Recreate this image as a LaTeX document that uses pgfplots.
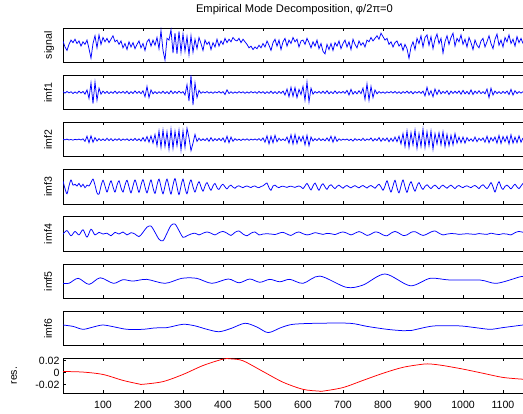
\documentclass[border=0pt]{standalone}
\usepackage{pgfplots}
\pgfplotsset{compat=1.18}
\usepackage{pgfplotstable}
\usepackage{fontspec}
\setmainfont{Liberation Sans}

\pgfplotstableread[row sep=\\]{
y\\
0.25\\ -0.10\\ -0.30\\ 0.05\\ 0.30\\ 0.15\\ 0.35\\ 0.10\\ 0.25\\ -0.05\\
0.20\\ 0.05\\ 0.30\\ -0.20\\ -0.75\\ 0.10\\ 0.55\\ -0.15\\ 0.60\\ 0.05\\
0.45\\ 0.20\\ 0.40\\ 0.15\\ 0.35\\ 0.55\\ 0.20\\ 0.30\\ 0.05\\ 0.25\\
-0.15\\ 0.10\\ -0.25\\ 0.20\\ -0.10\\ 0.15\\ -0.20\\ 0.05\\ 0.25\\ -0.15\\
0.10\\ -0.30\\ 0.20\\ 0.35\\ -0.05\\ 0.30\\ 0.00\\ 0.45\\ -0.20\\ 0.85\\
-0.30\\ -0.86\\ 0.40\\ 0.30\\ 0.90\\ -0.45\\ 0.70\\ -0.50\\ 0.80\\ -0.40\\
0.65\\ -0.35\\ 0.50\\ -0.55\\ 0.55\\ -0.40\\ 0.35\\ -0.20\\ 0.45\\ 0.10\\
-0.30\\ 0.30\\ 0.05\\ 0.20\\ -0.25\\ 0.15\\ -0.10\\ 0.35\\ -0.05\\ 0.25\\
0.05\\ 0.40\\ 0.15\\ 0.35\\ 0.20\\ 0.45\\ 0.30\\ 0.25\\ 0.40\\ 0.15\\
0.35\\ 0.20\\ 0.05\\ -0.15\\ -0.05\\ -0.25\\ -0.10\\ -0.20\\ 0.00\\ -0.15\\
0.10\\ -0.10\\ 0.25\\ 0.00\\ -0.30\\ 0.15\\ 0.35\\ -0.05\\ 0.30\\ -0.25\\
0.20\\ 0.40\\ -0.05\\ 0.30\\ 0.10\\ 0.45\\ 0.20\\ 0.35\\ -0.10\\ 0.25\\
0.30\\ 0.05\\ 0.40\\ 0.15\\ -0.15\\ 0.20\\ -0.05\\ 0.30\\ -0.20\\ 0.10\\
-0.35\\ -0.50\\ 0.05\\ -0.25\\ 0.10\\ -0.30\\ 0.15\\ -0.05\\ 0.25\\ -0.20\\
0.10\\ 0.30\\ -0.10\\ 0.20\\ -0.25\\ 0.35\\ 0.05\\ -0.15\\ 0.25\\ 0.00\\
0.15\\ -0.10\\ 0.30\\ 0.20\\ 0.45\\ 0.25\\ 0.40\\ 0.55\\ 0.35\\ 0.70\\
0.50\\ 0.30\\ 0.40\\ 0.05\\ 0.20\\ -0.10\\ 0.15\\ 0.25\\ -0.05\\ 0.10\\
-0.30\\ 0.05\\ -0.20\\ -0.76\\ -0.10\\ 0.20\\ -0.25\\ 0.40\\ 0.10\\ 0.55\\
-0.10\\ 0.45\\ 0.60\\ 0.00\\ 0.50\\ -0.20\\ 0.35\\ 0.65\\ 0.10\\ 0.40\\
-0.45\\ 0.20\\ 0.55\\ 0.05\\ 0.45\\ 0.70\\ -0.05\\ 0.40\\ 0.20\\ 0.60\\
0.05\\ 0.35\\ -0.10\\ 0.45\\ 0.15\\ -0.25\\ 0.30\\ 0.00\\ -0.15\\ 0.25\\
0.40\\ -0.10\\ 0.20\\ 0.55\\ 0.10\\ -0.20\\ 0.35\\ 0.65\\ 0.00\\ 0.30\\
-0.10\\ 0.45\\ 0.20\\ 0.60\\ 0.10\\ 0.35\\ -0.05\\ 0.50\\ 0.15\\ 0.40\\
0.10\\
}\sigtab

\pgfplotstableread[row sep=\\]{
y\\
0.05\\ -0.04\\ 0.06\\ -0.03\\ 0.04\\ -0.06\\ 0.03\\ -0.05\\ 0.07\\ -0.04\\
0.06\\ -0.10\\ 0.15\\ -0.35\\ 0.55\\ -0.65\\ 0.60\\ -0.45\\ 0.25\\ -0.10\\
0.08\\ -0.05\\ 0.06\\ -0.07\\ 0.04\\ -0.05\\ 0.08\\ -0.06\\ 0.05\\ -0.04\\
0.06\\ -0.05\\ 0.07\\ -0.08\\ 0.05\\ -0.06\\ 0.09\\ -0.05\\ 0.06\\ -0.07\\
0.10\\ -0.25\\ 0.35\\ -0.30\\ 0.15\\ -0.08\\ 0.05\\ -0.06\\ 0.04\\ -0.05\\
0.07\\ -0.06\\ 0.05\\ -0.08\\ 0.10\\ -0.07\\ 0.06\\ -0.05\\ 0.08\\ -0.04\\
0.05\\ -0.15\\ 0.45\\ -0.50\\ 1.00\\ -0.73\\ 0.55\\ -0.30\\ 0.12\\ -0.05\\
0.04\\ -0.03\\ 0.05\\ -0.04\\ 0.03\\ -0.05\\ 0.04\\ -0.03\\ 0.06\\ -0.04\\
0.05\\ -0.12\\ 0.15\\ -0.06\\ 0.04\\ -0.05\\ 0.03\\ -0.04\\ 0.05\\ -0.03\\
0.04\\ -0.05\\ 0.03\\ -0.04\\ 0.05\\ -0.03\\ 0.04\\ -0.05\\ 0.06\\ -0.04\\
0.05\\ -0.06\\ 0.04\\ -0.05\\ 0.07\\ -0.06\\ 0.05\\ -0.07\\ 0.06\\ -0.05\\
0.08\\ -0.15\\ 0.20\\ -0.25\\ 0.30\\ -0.22\\ 0.28\\ -0.30\\ 0.18\\ -0.12\\
0.35\\ -0.45\\ 0.60\\ -0.55\\ 0.25\\ -0.10\\ 0.05\\ -0.04\\ 0.06\\ -0.05\\
0.07\\ -0.06\\ 0.10\\ -0.08\\ 0.05\\ -0.07\\ 0.09\\ -0.06\\ 0.05\\ -0.04\\
0.06\\ -0.05\\ 0.12\\ -0.15\\ 0.18\\ -0.10\\ 0.06\\ -0.08\\ 0.10\\ -0.07\\
0.25\\ -0.40\\ 0.50\\ -0.45\\ 0.35\\ -0.30\\ 0.15\\ -0.08\\ 0.05\\ -0.04\\
0.03\\ -0.05\\ 0.04\\ -0.03\\ 0.05\\ -0.04\\ 0.06\\ -0.05\\ 0.04\\ -0.06\\
0.05\\ -0.04\\ 0.07\\ -0.05\\ 0.06\\ -0.08\\ 0.05\\ -0.04\\ 0.06\\ -0.05\\
0.08\\ -0.20\\ 0.30\\ -0.15\\ 0.10\\ -0.25\\ 0.20\\ -0.12\\ 0.15\\ -0.08\\
0.06\\ -0.05\\ 0.10\\ -0.12\\ 0.08\\ -0.06\\ 0.07\\ -0.05\\ 0.09\\ -0.10\\
0.12\\ -0.08\\ 0.06\\ -0.10\\ 0.15\\ -0.12\\ 0.08\\ -0.06\\ 0.10\\ -0.07\\
0.05\\ -0.08\\ 0.20\\ -0.30\\ 0.25\\ -0.15\\ 0.08\\ -0.06\\ 0.05\\ -0.07\\
0.06\\ -0.05\\ 0.08\\ -0.12\\ 0.18\\ -0.15\\ 0.10\\ -0.06\\ 0.05\\ -0.04\\
0.05\\
}\imfonetab

\pgfplotstableread[row sep=\\]{
y\\
0.02\\ -0.01\\ 0.03\\ -0.02\\ 0.01\\ -0.03\\ 0.02\\ -0.01\\ 0.03\\ -0.02\\
0.05\\ -0.10\\ 0.20\\ -0.18\\ 0.22\\ -0.15\\ 0.12\\ -0.08\\ 0.06\\ -0.05\\
0.04\\ -0.06\\ 0.08\\ -0.05\\ 0.06\\ -0.07\\ 0.05\\ -0.04\\ 0.06\\ -0.05\\
0.04\\ -0.03\\ 0.05\\ -0.06\\ 0.04\\ -0.05\\ 0.07\\ -0.06\\ 0.05\\ -0.08\\
0.12\\ -0.10\\ 0.18\\ -0.15\\ 0.22\\ -0.20\\ 0.30\\ -0.35\\ 0.50\\ -0.45\\
0.55\\ -0.40\\ 0.45\\ -0.55\\ 0.60\\ -0.50\\ 0.48\\ -0.35\\ 0.55\\ -0.60\\
0.50\\ -0.45\\ 0.66\\ 0.10\\ -0.64\\ -0.20\\ 0.30\\ -0.10\\ 0.08\\ -0.06\\
0.05\\ -0.06\\ 0.08\\ -0.10\\ 0.12\\ -0.08\\ 0.06\\ -0.05\\ 0.07\\ -0.06\\
0.10\\ -0.15\\ 0.20\\ -0.18\\ 0.15\\ -0.10\\ 0.06\\ -0.04\\ 0.03\\ -0.05\\
0.04\\ -0.03\\ 0.05\\ -0.04\\ 0.03\\ -0.02\\ 0.04\\ -0.03\\ 0.06\\ -0.05\\
0.10\\ -0.15\\ 0.22\\ -0.25\\ 0.20\\ -0.18\\ 0.25\\ -0.12\\ 0.08\\ -0.05\\
0.04\\ -0.06\\ 0.15\\ -0.20\\ 0.28\\ -0.25\\ 0.30\\ -0.22\\ 0.18\\ -0.10\\
0.20\\ -0.30\\ 0.25\\ -0.35\\ 0.15\\ -0.08\\ 0.06\\ -0.05\\ 0.08\\ -0.06\\
0.05\\ -0.07\\ 0.10\\ -0.08\\ 0.20\\ -0.15\\ 0.18\\ -0.10\\ 0.05\\ -0.04\\
0.03\\ -0.02\\ 0.04\\ -0.05\\ 0.03\\ -0.08\\ 0.06\\ -0.04\\ 0.03\\ -0.05\\
0.08\\ -0.06\\ 0.04\\ -0.03\\ 0.10\\ -0.08\\ 0.06\\ -0.05\\ 0.12\\ -0.10\\
0.08\\ -0.06\\ 0.10\\ -0.12\\ 0.08\\ -0.10\\ 0.15\\ -0.12\\ 0.20\\ -0.25\\
0.35\\ -0.40\\ 0.50\\ -0.45\\ 0.40\\ -0.30\\ 0.55\\ -0.50\\ 0.35\\ -0.40\\
0.60\\ -0.45\\ 0.45\\ -0.35\\ 0.50\\ -0.55\\ 0.35\\ -0.25\\ 0.40\\ -0.30\\
0.45\\ -0.40\\ 0.30\\ -0.35\\ 0.25\\ -0.30\\ 0.35\\ -0.20\\ 0.15\\ -0.18\\
0.15\\ -0.20\\ 0.12\\ -0.08\\ 0.05\\ -0.10\\ 0.15\\ -0.12\\ 0.08\\ -0.05\\
0.10\\ -0.15\\ 0.20\\ -0.18\\ 0.12\\ -0.08\\ 0.15\\ -0.20\\ 0.25\\ -0.22\\
0.18\\ -0.12\\ 0.20\\ -0.25\\ 0.28\\ -0.20\\ 0.15\\ -0.18\\ 0.22\\ -0.15\\
0.10\\
}\imftwotab

\pgfplotstableread[row sep=\\]{
y\\
0.35\\ -0.10\\ -0.40\\ 0.05\\ 0.40\\ 0.10\\ 0.15\\ 0.05\\ 0.20\\ 0.00\\
0.15\\ -0.05\\ 0.10\\ 0.05\\ 0.25\\ 0.45\\ 0.10\\ -0.35\\ -0.42\\ 0.05\\
0.38\\ 0.05\\ -0.30\\ 0.05\\ 0.35\\ 0.00\\ -0.30\\ 0.10\\ 0.35\\ -0.05\\
-0.30\\ 0.10\\ 0.38\\ 0.00\\ -0.35\\ 0.05\\ 0.40\\ 0.05\\ -0.32\\ 0.10\\
0.42\\ 0.00\\ -0.35\\ 0.05\\ 0.40\\ -0.05\\ -0.38\\ 0.10\\ 0.45\\ 0.00\\
-0.40\\ 0.05\\ 0.45\\ 0.00\\ -0.42\\ 0.10\\ 0.48\\ 0.00\\ -0.45\\ 0.05\\
0.45\\ -0.05\\ -0.40\\ 0.10\\ 0.40\\ 0.00\\ -0.30\\ 0.05\\ 0.30\\ 0.00\\
-0.25\\ 0.05\\ 0.25\\ 0.00\\ -0.20\\ 0.05\\ 0.20\\ -0.05\\ -0.15\\ 0.05\\
0.15\\ 0.00\\ -0.12\\ 0.03\\ 0.10\\ -0.02\\ -0.08\\ 0.03\\ 0.06\\ 0.00\\
-0.05\\ 0.02\\ 0.05\\ 0.00\\ -0.04\\ 0.03\\ 0.05\\ -0.02\\ -0.05\\ 0.02\\
0.06\\ 0.15\\ 0.22\\ -0.05\\ -0.20\\ 0.05\\ 0.10\\ 0.00\\ -0.05\\ 0.02\\
0.04\\ 0.00\\ -0.03\\ 0.02\\ 0.04\\ 0.00\\ -0.03\\ 0.02\\ 0.05\\ 0.00\\
-0.10\\ 0.05\\ 0.20\\ 0.00\\ -0.18\\ 0.05\\ 0.22\\ 0.00\\ -0.20\\ 0.05\\
0.18\\ 0.00\\ -0.15\\ 0.05\\ 0.12\\ 0.00\\ -0.10\\ 0.03\\ 0.10\\ 0.00\\
-0.08\\ 0.03\\ 0.08\\ 0.00\\ -0.06\\ 0.02\\ 0.07\\ 0.00\\ -0.06\\ 0.03\\
0.08\\ 0.00\\ -0.07\\ 0.03\\ 0.08\\ 0.00\\ -0.08\\ 0.05\\ 0.15\\ 0.00\\
-0.20\\ 0.05\\ 0.35\\ 0.00\\ -0.30\\ 0.05\\ 0.38\\ -0.05\\ -0.35\\ 0.05\\
0.40\\ 0.00\\ -0.32\\ 0.05\\ 0.30\\ 0.00\\ -0.25\\ 0.05\\ 0.25\\ 0.00\\
-0.15\\ 0.03\\ 0.12\\ 0.00\\ -0.10\\ 0.03\\ 0.10\\ 0.00\\ -0.12\\ 0.03\\
0.10\\ 0.00\\ -0.08\\ 0.03\\ 0.10\\ 0.00\\ -0.10\\ 0.03\\ 0.08\\ 0.00\\
-0.05\\ 0.03\\ 0.06\\ 0.00\\ -0.05\\ 0.04\\ 0.08\\ 0.00\\ -0.10\\ 0.05\\
0.12\\ 0.00\\ -0.10\\ 0.05\\ 0.25\\ 0.00\\ -0.30\\ 0.05\\ 0.30\\ 0.00\\
-0.15\\ 0.03\\ 0.10\\ 0.00\\ -0.12\\ 0.03\\ 0.15\\ 0.00\\ -0.10\\ 0.05\\
0.20\\
}\imfthreetab

\pgfplotstableread[row sep=\\]{
y\\
0.00\\ 0.20\\ -0.10\\ 0.15\\ -0.05\\ 0.25\\ -0.18\\ 0.28\\ -0.05\\ 0.10\\
0.00\\ 0.05\\ -0.10\\ 0.10\\ 0.00\\ 0.12\\ -0.05\\ 0.08\\ 0.00\\ -0.15\\
0.10\\ 0.40\\ 0.46\\ 0.10\\ -0.30\\ -0.39\\ 0.05\\ 0.50\\ 0.58\\ 0.20\\
-0.19\\ -0.10\\ 0.00\\ 0.05\\ -0.05\\ 0.05\\ 0.12\\ 0.05\\ -0.05\\ 0.08\\
0.15\\ 0.05\\ -0.08\\ 0.10\\ 0.18\\ 0.00\\ -0.10\\ 0.05\\ 0.12\\ -0.05\\
0.00\\ 0.02\\ 0.00\\ -0.03\\ 0.05\\ 0.10\\ 0.00\\ -0.08\\ 0.05\\ 0.12\\
0.02\\ -0.05\\ 0.00\\ 0.08\\ 0.03\\ -0.02\\ 0.04\\ 0.02\\ -0.03\\ 0.06\\
0.12\\ 0.05\\ -0.05\\ 0.05\\ 0.14\\ 0.05\\ -0.08\\ 0.00\\ 0.12\\ 0.08\\
-0.05\\ -0.10\\ 0.05\\ 0.15\\ 0.05\\ -0.08\\ -0.05\\ 0.10\\ 0.14\\ 0.02\\
-0.08\\ 0.00\\ 0.12\\ 0.18\\ 0.05\\ -0.05\\ 0.00\\ 0.03\\ 0.02\\ -0.02\\
0.00\\ 0.02\\ 0.00\\ -0.02\\ 0.03\\ 0.00\\ -0.02\\ 0.05\\ 0.00\\ -0.03\\
0.02\\ 0.00\\ -0.05\\ 0.08\\ 0.15\\ 0.10\\
}\imffourtab

\pgfplotstableread{
x y
0 -0.12
15 -0.12
38 0.17
65 -0.18
93 0.20
126 -0.12
150 0.09
175 0.01
209 0.11
255 -0.12
297 0.17
334 0.17
372 -0.12
413 0.13
440 -0.09
467 0.13
492 -0.06
517 0.11
542 -0.03
567 0.11
600 -0.12
642 0.30
708 -0.35
750 -0.22
805 0.42
868 -0.26
918 0.17
968 0.07
1043 0.07
1084 -0.12
1143 0.26
1150 0.26
}\imffivetab

\pgfplotstableread{
x y
0 0.20
25 0.12
50 -0.05
75 0.08
100 0.20
130 0.08
160 -0.05
200 -0.05
230 0.03
260 0.05
300 0.24
330 0.15
360 -0.05
390 -0.19
420 0.00
455 0.30
485 0.08
513 -0.24
545 0.05
575 0.24
635 0.30
717 0.30
760 0.12
810 -0.05
850 -0.13
870 -0.12
925 0.14
990 0.15
1030 0.05
1068 -0.05
1100 0.05
1150 0.20
}\imfsixtab

\pgfplotstableread{
x y
0 0.002
50 0.001
100 -0.003
150 -0.013
190 -0.019
200 -0.0195
250 -0.015
300 -0.003
350 0.012
400 0.0228
420 0.0232
450 0.020
500 0.002
550 -0.016
600 -0.028
640 -0.031
650 -0.031
700 -0.025
750 -0.013
800 -0.001
850 0.009
900 0.0143
920 0.0145
950 0.012
1000 0.006
1050 -0.001
1100 -0.008
1150 -0.011
}\restab

\begin{document}
\begin{tikzpicture}
\useasboundingbox (0bp,0bp) rectangle (523bp,414bp);
\pgfplotsset{
  emd/.style={
    scale only axis, width=463bp, height=34.5bp,
    xmin=0, xmax=1157.5, ymin=-1, ymax=1,
    xtick={100,200,...,1100}, xticklabels={},
    ytick=\empty, scaled y ticks=false, scaled x ticks=false,
    tick align=inside, major tick length=3bp,
    tick style={black, line width=0.6pt},
    axis line style={line width=0.8pt},
    font=\fontsize{10.6}{12}\selectfont,
    every axis y label/.style={at={(axis description cs:-0.0238,0.5)}, rotate=90, anchor=base},
  },
  sigline/.style={blue, line width=0.75pt, no markers},
}
\begin{axis}[emd, at={(63bp,351.5bp)}, anchor=south west, ylabel={signal},
  title={Empirical Mode Decomposition, φ/2π=0},
  title style={at={(axis description cs:0.5,1)}, anchor=base, yshift=9.7bp, font=\fontsize{11.2}{13}\selectfont}]
\addplot[sigline] table[x expr=\coordindex*5, y index=0]{\sigtab};
\end{axis}
\begin{axis}[emd, at={(63bp,304.3bp)}, anchor=south west, ylabel={imf1}]
\addplot[sigline] table[x expr=\coordindex*5, y index=0]{\imfonetab};
\end{axis}
\begin{axis}[emd, at={(63bp,257.1bp)}, anchor=south west, ylabel={imf2}]
\addplot[sigline] table[x expr=\coordindex*5, y index=0]{\imftwotab};
\end{axis}
\begin{axis}[emd, at={(63bp,209.9bp)}, anchor=south west, ylabel={imf3}]
\addplot[sigline, smooth] table[x expr=\coordindex*5, y index=0]{\imfthreetab};
\end{axis}
\begin{axis}[emd, at={(63bp,162.7bp)}, anchor=south west, ylabel={imf4}]
\addplot[sigline, smooth] table[x expr=\coordindex*10, y index=0]{\imffourtab};
\end{axis}
\begin{axis}[emd, at={(63bp,115.5bp)}, anchor=south west, ylabel={imf5}]
\addplot[sigline, smooth] table[x=x, y=y]{\imffivetab};
\end{axis}
\begin{axis}[emd, at={(63bp,68.3bp)}, anchor=south west, ylabel={imf6}]
\addplot[sigline, smooth] table[x=x, y=y]{\imfsixtab};
\end{axis}
\begin{axis}[emd, at={(63bp,21.1bp)}, anchor=south west, ylabel={res.},
  ymin=-0.034, ymax=0.024,
  ytick={-0.02,0,0.02}, yticklabels={-0.02,0,0.02},
  xticklabels={100,200,300,400,500,600,700,800,900,1000,1100},
  xticklabel style={yshift=-5bp},
  every axis y label/.style={at={(axis description cs:-0.0994,0.5)}, rotate=90, anchor=base}]
\addplot[red, line width=0.75pt, no markers, smooth] table[x=x, y=y]{\restab};
\end{axis}
\end{tikzpicture}
\end{document}
